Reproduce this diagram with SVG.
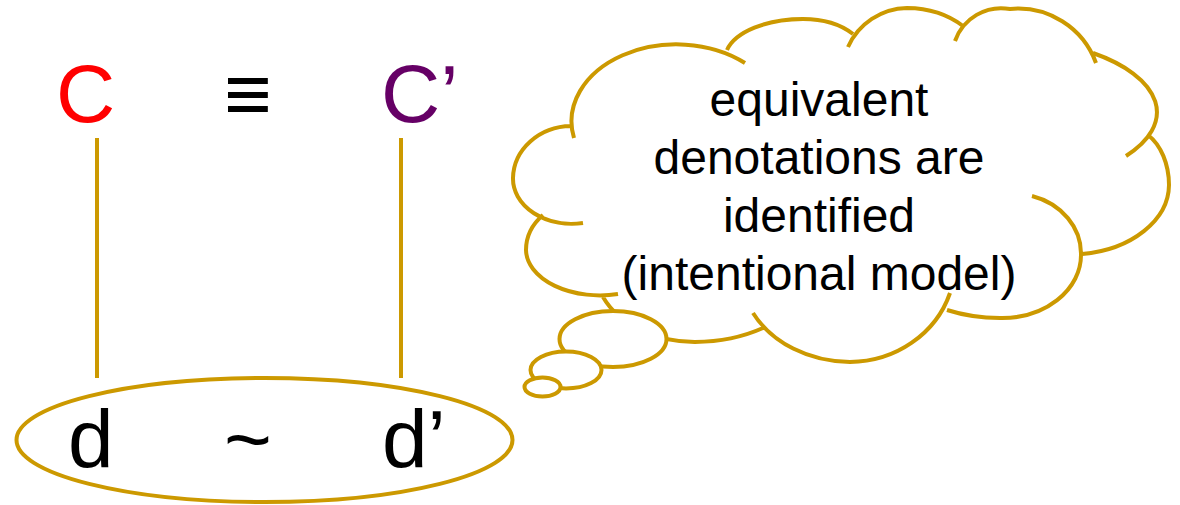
<svg xmlns="http://www.w3.org/2000/svg" width="1180" height="505" viewBox="0 0 1180 505">
  <style>
    .big { font-family: "Liberation Sans", Arial, "DejaVu Sans", sans-serif; font-size: 82px; fill: #000000; }
    .cloudtxt { font-family: "Liberation Sans", Arial, sans-serif; font-size: 48px; fill: #000000; text-anchor: middle; }
    .gold { stroke: #CC9900; fill: none; stroke-width: 4; }
    .bubble { stroke: #CC9900; fill: #FFFFFF; stroke-width: 4; }
  </style>
  <rect x="0" y="0" width="1180" height="505" fill="#FFFFFF"/>

  <g id="connectors">
    <line class="gold" x1="97" y1="138" x2="97" y2="378"/>
    <line class="gold" x1="401" y1="138" x2="401" y2="378"/>
  </g>

  <g id="denotation-ellipse">
    <ellipse class="gold" cx="264.5" cy="440" rx="248" ry="62" stroke-width="3.5"/>
  </g>

  <g id="node-C"><text class="big" x="56" y="122" fill="#FF0000" style="fill:#FF0000">C</text></g>
  <g id="node-equiv"><text class="big" x="248" y="122" text-anchor="middle">≡</text></g>
  <g id="node-Cprime"><text class="big" x="381" y="122" style="fill:#660066">C’</text></g>
  <g id="node-d"><text class="big" x="68" y="467">d</text></g>
  <g id="node-tilde"><text class="big" x="248" y="467" text-anchor="middle">~</text></g>
  <g id="node-dprime"><text class="big" x="382" y="467">d’</text></g>

  <g id="thought-cloud">
    <path class="gold" d="
      M583,223 A59,45 0 0,1 513,178 A59,53 0 0,1 571,126
      M574,138 A105,77 0 0,1 745,63
      M727,50 A78,40 0 0,1 803,19 A64,40 0 0,1 853,34
      M848,47 A66,66 0 0,1 907,8 A80,60 0 0,1 963,26
      M955,41 A49,49 0 0,1 1010,9 A83,83 0 0,1 1096,63
      M1093,53 A165,75 0 0,1 1126,156
      M1148,135 A40,57 0 0,1 1169,185 A99,70 0 0,1 1082,254
      M1032,196 A68,60 0 0,1 1081,255 A79,63 0 0,1 1000,318 A110,63 0 0,1 947,310
      M950,293 A106,100 0 0,1 850,362 A110,90 0 0,1 753,313
      M763,328 A120,75 0 0,1 695,342 A100,75 0 0,1 603,297
      M618,294 A74,46 0 0,1 526,250 A59,50 0 0,1 543,215"/>
    <ellipse class="bubble" cx="613" cy="339" rx="53.5" ry="28"/>
    <ellipse class="bubble" cx="566" cy="370" rx="35.5" ry="18.5"/>
    <ellipse class="bubble" cx="542.5" cy="387" rx="18" ry="9.5"/>
    <text class="cloudtxt" x="819" y="116">equivalent</text>
    <text class="cloudtxt" x="819" y="174">denotations are</text>
    <text class="cloudtxt" x="819" y="232">identified</text>
    <text class="cloudtxt" x="819" y="290">(intentional model)</text>
  </g>
</svg>
